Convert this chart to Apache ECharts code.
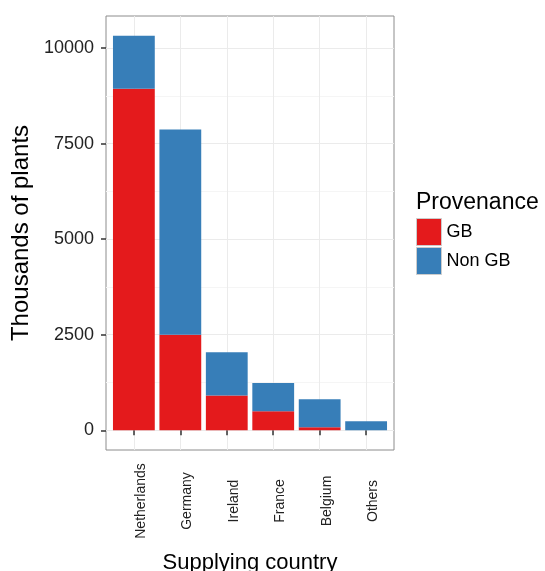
<!DOCTYPE html>
<html><head><meta charset="utf-8">
<script src="https://cdn.jsdelivr.net/npm/echarts@6/dist/echarts.min.js"></script>
<style>html,body{margin:0;padding:0;background:#fff}#c{width:545px;height:571px}</style>
</head><body><div id="c"></div>
<script>
const categories = ['Netherlands', 'Germany', 'Ireland', 'France', 'Belgium', 'Others'];
const gbValues = [8940, 2500, 910, 495, 80, 0];
const nonGbValues = [1385, 5370, 1130, 745, 730, 235];
const yTicks = [0, 2500, 5000, 7500, 10000];
const yMinorTicks = [1250, 3750, 6250, 8750];
const catPositions = categories.map((c, i) => i + 1);

const chart = echarts.init(document.getElementById('c'), null, {renderer: 'canvas'});
const font = '"Liberation Sans", Arial, sans-serif';
const yMin = -516, yMax = 10841;
const option = {
  animation: false,
  textStyle: {fontFamily: font},
  title: {
    text: 'Provenance', left: 411, top: 186,
    textStyle: {fontSize: 23, fontWeight: 'normal', color: '#000', fontFamily: font}
  },
  legend: {
    orient: 'vertical', left: 411, top: 213,
    itemWidth: 25, itemHeight: 27, itemGap: 1, icon: 'rect',
    textStyle: {fontSize: 18, color: '#000', fontFamily: font},
    itemStyle: {borderColor: '#cccccc', borderWidth: 1},
    data: ['GB', 'Non GB']
  },
  grid: [{
    left: 106, top: 16, width: 288, height: 434,
    show: true, borderColor: '#8c8c8c', borderWidth: 1,
    containLabel: false, outerBoundsMode: 'none'
  }, {
    left: 110.65, top: 16, width: 278.7, height: 434,
    show: false, containLabel: false, outerBoundsMode: 'none'
  }],
  xAxis: [{
    gridIndex: 0, type: 'value', min: 0.4, max: 6.6,
    axisLine: {show: false},
    axisTick: {show: true, customValues: catPositions, length: 5, lineStyle: {color: '#333', width: 1.5}},
    axisLabel: {
      customValues: catPositions,
      formatter: v => categories[Math.round(v) - 1],
      rotate: 90, align: 'center', verticalAlign: 'top', margin: 51,
      fontSize: 14, color: '#222', fontFamily: font
    },
    splitLine: {show: true, lineStyle: {color: '#ebebeb', width: 1}},
    name: 'Supplying country', nameLocation: 'middle', nameGap: 102,
    nameTextStyle: {fontSize: 22, color: '#000', fontFamily: font}
  }, {
    gridIndex: 1, type: 'category', data: categories, show: false
  }],
  yAxis: [{
    gridIndex: 0, type: 'value', min: yMin, max: yMax,
    axisLine: {show: false},
    axisTick: {show: true, customValues: yTicks, length: 5, lineStyle: {color: '#333', width: 1.5}},
    axisLabel: {customValues: yTicks, formatter: v => String(v), margin: 12, fontSize: 18, color: '#222', fontFamily: font},
    splitLine: {show: true, lineStyle: {color: '#ebebeb', width: 1}},
    name: 'Thousands of plants', nameLocation: 'middle', nameGap: 65,
    nameTextStyle: {fontSize: 24, color: '#000', fontFamily: font}
  }, {
    gridIndex: 0, type: 'value', min: yMin, max: yMax, position: 'left',
    axisLine: {show: false},
    axisTick: {show: false, customValues: yMinorTicks},
    axisLabel: {show: false, customValues: yMinorTicks},
    splitLine: {show: true, lineStyle: {color: '#f5f5f5', width: 1}}
  }, {
    gridIndex: 1, type: 'value', min: yMin, max: yMax, show: false,
    splitLine: {show: false}
  }],
  series: [{
    name: 'GB', type: 'bar', stack: 'total', barWidth: '90%',
    xAxisIndex: 1, yAxisIndex: 2,
    itemStyle: {color: '#E41A1C'},
    data: gbValues
  }, {
    name: 'Non GB', type: 'bar', stack: 'total', barWidth: '90%',
    xAxisIndex: 1, yAxisIndex: 2,
    itemStyle: {color: '#377EB8'},
    data: nonGbValues
  }]
};
chart.setOption(option);
</script>
</body></html>
